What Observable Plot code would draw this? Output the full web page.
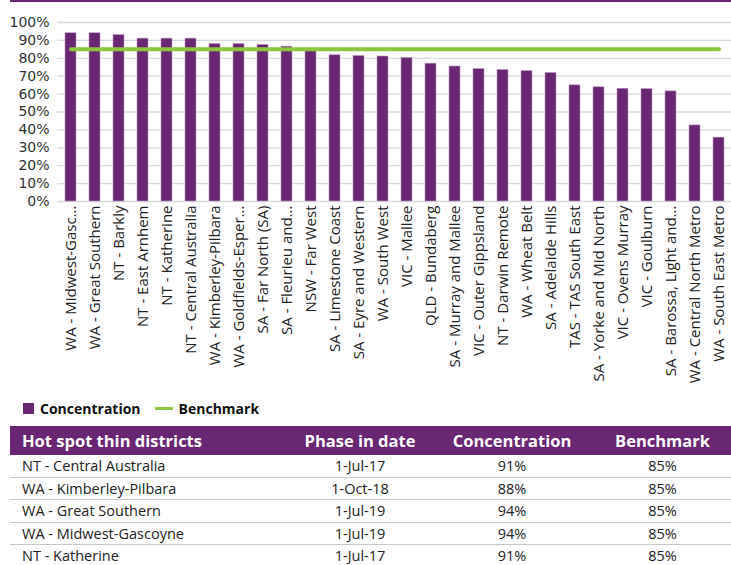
<!DOCTYPE html>
<html>
<head>
<meta charset="utf-8">
<script src="https://cdn.jsdelivr.net/npm/d3@7"></script>
<script src="https://cdn.jsdelivr.net/npm/@observablehq/plot@0.6"></script>
<style>
  html, body { margin: 0; padding: 0; background: #fff; width: 731px; height: 565px; overflow: hidden; }
  body { position: relative; font-family: "Open Sans", sans-serif; }
  #banner { position: absolute; left: 10px; top: 0; width: 721px; height: 2px; background: #692672; }
  #chart { position: absolute; left: 0; top: 0; }
  #legend { position: absolute; left: 23px; top: 398px; height: 20px; display: flex; align-items: center; font-weight: 700; font-size: 14px; color: #111; }
  #legend .sw { width: 11px; height: 11px; background: #692672; margin-right: 6px; }
  #legend .ln { width: 18px; height: 3px; background: #8cc63f; margin-left: 14px; margin-right: 6px; }
  #tbl { position: absolute; left: 10px; top: 426px; border-collapse: collapse; table-layout: fixed; width: 721px; }
  #tbl th { background: #692672; color: #fff; font-weight: 700; font-size: 16.5px; height: 29px; padding: 0; line-height: 29px; }
  #tbl td { font-size: 14.5px; color: #222; height: 21.5px; padding: 0; line-height: 21px; border-bottom: 1px solid #c8c8c8; }
  #tbl th:first-child, #tbl td:first-child { text-align: left; padding-left: 12px; }
  #tbl th:not(:first-child), #tbl td:not(:first-child) { text-align: center; }
  #tbl tr:last-child td { border-bottom: none; }
</style>
</head>
<body>
<div id="banner"></div>
<div id="chart"></div>
<div id="legend"><div class="sw"></div><span>Concentration</span><div class="ln"></div><span>Benchmark</span></div>
<table id="tbl"><colgroup><col style="width:280px"><col style="width:140px"><col style="width:164px"><col style="width:137px"></colgroup><thead></thead><tbody></tbody></table>
<script>
const categories = [
  "WA - Midwest-Gasc...", "WA - Great Southern", "NT - Barkly", "NT - East Arnhem",
  "NT - Katherine", "NT - Central Australia", "WA - Kimberley-Pilbara", "WA - Goldfields-Esper...",
  "SA - Far North (SA)", "SA - Fleurieu and...", "NSW - Far West", "SA - Limestone Coast",
  "SA - Eyre and Western", "WA - South West", "VIC - Mallee", "QLD - Bundaberg",
  "SA - Murray and Mallee", "VIC - Outer Gippsland", "NT - Darwin Remote", "WA - Wheat Belt",
  "SA - Adelaide Hills", "TAS - TAS South East", "SA - Yorke and Mid North", "VIC - Ovens Murray",
  "VIC - Goulburn", "SA - Barossa, Light and...", "WA - Central North Metro", "WA - South East Metro"
];
const concentration = [94, 94, 93, 91, 91, 91, 88, 88, 87.5, 86.5, 84, 81.7, 81.3, 81, 80.2, 77, 75.4, 74, 73.5, 72.9, 71.8, 64.9, 63.8, 63, 62.8, 61.5, 42.5, 35.7];
const benchmark = [85, 85, 85, 85, 85, 85, 85, 85, 85, 85, 85, 85, 85, 85, 85, 85, 85, 85, 85, 85, 85, 85, 85, 85, 85, 85, 85, 85];
const yTicks = [0, 10, 20, 30, 40, 50, 60, 70, 80, 90, 100];

const tableHeaders = ["Hot spot thin districts", "Phase in date", "Concentration", "Benchmark"];
const tableDistricts = ["NT - Central Australia", "WA - Kimberley-Pilbara", "WA - Great Southern", "WA - Midwest-Gascoyne", "NT - Katherine"];
const tablePhase = ["1-Jul-17", "1-Oct-18", "1-Jul-19", "1-Jul-19", "1-Jul-17"];
const tableConcentration = ["91%", "88%", "94%", "94%", "91%"];
const tableBenchmark = ["85%", "85%", "85%", "85%", "85%"];

const purple = "#692672";
const green = "#8cc63f";

const data = categories.map((c, i) => ({category: c, concentration: concentration[i], benchmark: benchmark[i]}));

const chart = Plot.plot({
  width: 731,
  height: 398,
  marginTop: 22,
  marginBottom: 197,
  marginLeft: 57,
  marginRight: 0,
  style: {background: "transparent", overflow: "visible"},
  x: {type: "band", domain: categories, range: [56, 733], paddingInner: 0.55, paddingOuter: 0.275, label: null},
  y: {domain: [0, 100], label: null},
  marks: [
    Plot.gridY(yTicks, {stroke: "#d9d9d9", strokeOpacity: 1, strokeWidth: 1.3}),
    Plot.barY(data, {x: "category", y: "concentration", fill: purple, stroke: "#b99ac0", strokeWidth: 0.6}),
    Plot.lineY(data, {x: "category", y: "benchmark", stroke: green, strokeWidth: 4}),
    Plot.axisY(yTicks, {tickSize: 0, tickPadding: 8, tickFormat: d => d + "%", fontSize: 14, fontFamily: "DejaVu Sans", fill: "#333"}),
    Plot.axisX({tickSize: 0, tickPadding: 4, tickRotate: -90, fontSize: 15, fontFamily: "Open Sans", fill: "#222", label: null})
  ]
});
document.getElementById("chart").appendChild(chart);

const thead = d3.select("#tbl thead").append("tr");
thead.selectAll("th").data(tableHeaders).join("th").text(d => d);
const rows = tableDistricts.map((d, i) => [d, tablePhase[i], tableConcentration[i], tableBenchmark[i]]);
d3.select("#tbl tbody").selectAll("tr").data(rows).join("tr")
  .selectAll("td").data(r => r).join("td").text(d => d);
</script>
</body>
</html>
